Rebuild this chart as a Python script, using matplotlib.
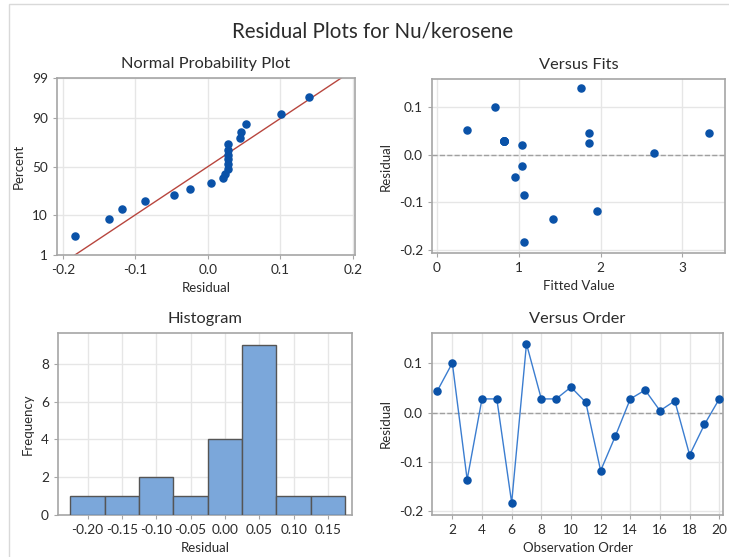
import numpy as np
import matplotlib
matplotlib.use("Agg")
import matplotlib.pyplot as plt
from matplotlib.patches import Rectangle
from matplotlib.ticker import FuncFormatter
from statistics import NormalDist

plt.rcParams['font.family'] = ['Lato', 'DejaVu Sans']
plt.rcParams['axes.unicode_minus'] = False

# residuals in observation order
residuals = [0.045, 0.101, -0.136, 0.028, 0.028, -0.183, 0.140, 0.028, 0.028, 0.052,
             0.021, -0.118, -0.047, 0.028, 0.046, 0.004, 0.024, -0.086, -0.024, 0.028]
fitted = [3.33, 0.71, 1.42, 0.82, 0.82, 1.07, 1.76, 0.82, 0.82, 0.37,
          1.04, 1.95, 0.96, 0.82, 1.86, 2.65, 1.86, 1.06, 1.04, 0.82]
order = list(range(1, 21))
hist_edges = [-0.225, -0.175, -0.125, -0.075, -0.025, 0.025, 0.075, 0.125, 0.175]
prob_ticks = [1, 10, 50, 90, 99]

blue = '#0A52A8'
line_blue = '#3B7DD0'
frame = '#A6A6A6'
grid = '#E6E6E6'
txt = '#2B2B2B'

nd = NormalDist()
res = np.array(residuals)

fig = plt.figure(figsize=(7.29, 5.57), dpi=100)
fig.patches.append(Rectangle((9 / 729, -0.1), 1.2, 1 - 4 / 557 + 0.1, transform=fig.transFigure,
                             fill=False, edgecolor='#D9D9D9', linewidth=1))

fig.text(0.511, 1 - 32 / 557, 'Residual Plots for Nu/kerosene', ha='center', va='center',
         fontsize=14.8, color=txt)


def style(ax):
    for s in ax.spines.values():
        s.set_color(frame)
        s.set_linewidth(1.2)
    ax.grid(True, color=grid, linewidth=1)
    ax.set_axisbelow(True)
    ax.tick_params(labelsize=9.8, length=3, color=frame, labelcolor=txt)


def labels(ax, xl, yl, title):
    ax.set_xlabel(xl, fontsize=9.5, color=txt, labelpad=4)
    ax.set_ylabel(yl, fontsize=9.5, color=txt, labelpad=5)
    ax.set_title(title, fontsize=11.8, color=txt, pad=7)


# Normal probability plot
ax1 = fig.add_axes([57 / 729, 1 - 255 / 557, 298 / 729, 177 / 557])
style(ax1)
n = len(res)
srt = np.sort(res)
pct = [(i - 0.3) / (n + 0.4) for i in range(1, n + 1)]
zs = [nd.inv_cdf(p) for p in pct]
ax1.scatter(srt, zs, s=26, color=blue, zorder=3)
mu, sd = res.mean(), res.std(ddof=1)
zl = np.array([nd.inv_cdf(0.005), nd.inv_cdf(0.995)])
ax1.plot(mu + sd * zl, zl, color='#B8463E', linewidth=1, zorder=2)
ax1.set_yticks([nd.inv_cdf(p / 100) for p in prob_ticks])
ax1.set_yticklabels([str(p) for p in prob_ticks])
ax1.set_ylim(nd.inv_cdf(0.01), nd.inv_cdf(0.99))
ax1.set_xlim(-0.208, 0.203)
ax1.set_xticks([-0.2, -0.1, 0.0, 0.1, 0.2])
ax1.xaxis.set_major_formatter(FuncFormatter(lambda v, p: f'{v:.1f}'))
labels(ax1, 'Residual', 'Percent', 'Normal Probability Plot')

# Versus fits
ax2 = fig.add_axes([432 / 729, 1 - 253 / 557, 293 / 729, 174 / 557])
style(ax2)
ax2.axhline(0, color='#A0A0A0', linestyle='--', linewidth=1, zorder=2)
ax2.scatter(fitted, residuals, s=26, color=blue, zorder=3)
ax2.set_xlim(-0.06, 3.52)
ax2.set_ylim(-0.207, 0.159)
ax2.set_xticks([0, 1, 2, 3])
ax2.set_yticks([-0.2, -0.1, 0.0, 0.1])
ax2.yaxis.set_major_formatter(FuncFormatter(lambda v, p: f'{v:.1f}'))
labels(ax2, 'Fitted Value', 'Residual', 'Versus Fits')

# Histogram
ax3 = fig.add_axes([58 / 729, 1 - 515 / 557, 294 / 729, 182 / 557])
style(ax3)
ax3.hist(residuals, bins=hist_edges, color='#7BA7DA', edgecolor='#555555', linewidth=1, zorder=3)
ax3.set_xlim(-0.243, 0.185)
ax3.set_ylim(0, 9.64)
ax3.set_xticks([-0.20, -0.15, -0.10, -0.05, 0.0, 0.05, 0.10, 0.15])
ax3.xaxis.set_major_formatter(FuncFormatter(lambda v, p: f'{v:.2f}'))
ax3.set_yticks([0, 2, 4, 6, 8])
labels(ax3, 'Residual', 'Frequency', 'Histogram')

# Versus order
ax4 = fig.add_axes([432 / 729, 1 - 515 / 557, 291 / 729, 182 / 557])
style(ax4)
ax4.axhline(0, color='#A0A0A0', linestyle='--', linewidth=1, zorder=2)
ax4.plot(order, residuals, color=line_blue, linewidth=1, zorder=3)
ax4.scatter(order, residuals, s=26, color=blue, zorder=4)
ax4.set_xlim(0.63, 20.25)
ax4.set_ylim(-0.208, 0.162)
ax4.set_xticks(range(2, 21, 2))
ax4.set_yticks([-0.2, -0.1, 0.0, 0.1])
ax4.yaxis.set_major_formatter(FuncFormatter(lambda v, p: f'{v:.1f}'))
labels(ax4, 'Observation Order', 'Residual', 'Versus Order')

fig.savefig('out.png', dpi=100)
